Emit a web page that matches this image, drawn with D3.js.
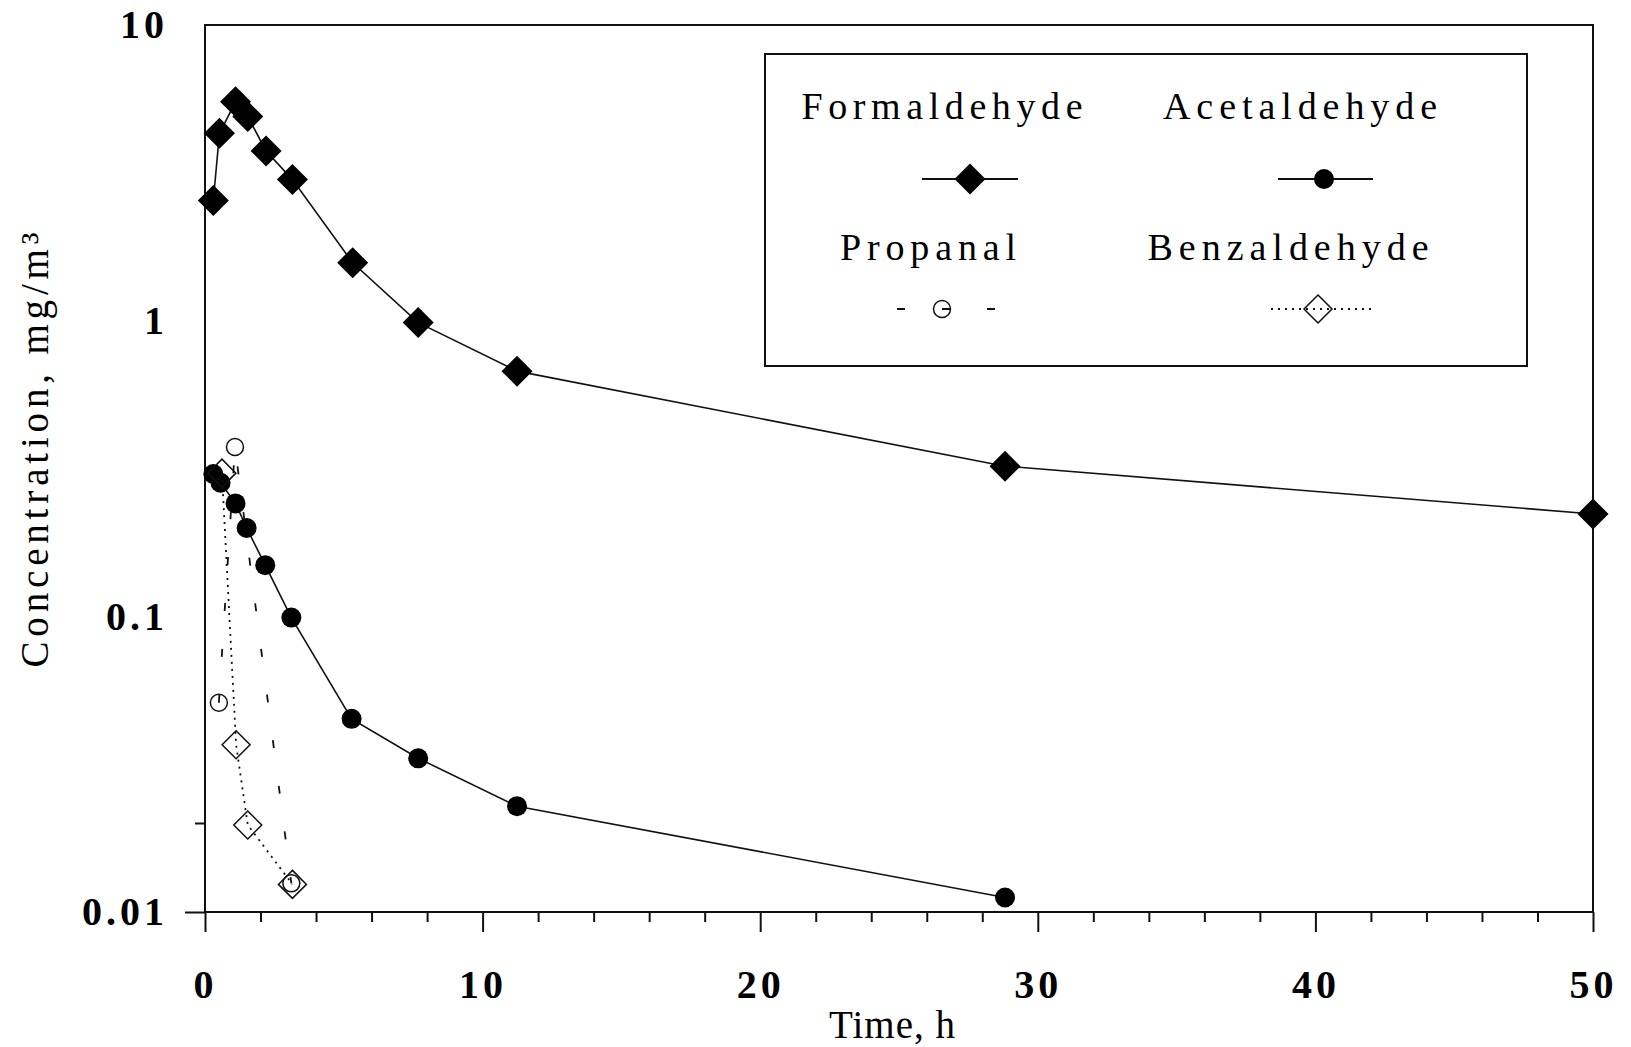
<!DOCTYPE html>
<html>
<head>
<meta charset="utf-8">
<script src="https://cdn.jsdelivr.net/npm/d3@7"></script>
<style>
  html, body { margin: 0; padding: 0; background: #fff; }
  svg { display: block; }
  text { font-family: "Liberation Serif", "Times New Roman", serif; fill: #000; }
</style>
</head>
<body>
<svg id="chart" width="1631" height="1047"></svg>
<script>
// Aldehyde concentrations over time (log scale)
const timeFormaldehyde = [0.3, 0.52, 1.1, 1.54, 2.2, 3.15, 5.32, 7.68, 11.24, 28.82, 50];
const formaldehyde     = [2.55, 4.3, 5.5, 4.9, 3.75, 3.0, 1.57, 0.985, 0.675, 0.322, 0.222];

const timeAcetaldehyde = [0.3, 0.56, 1.1, 1.5, 2.17, 3.11, 5.28, 7.68, 11.24, 28.82];
const acetaldehyde     = [0.303, 0.283, 0.241, 0.199, 0.149, 0.099, 0.045, 0.0331, 0.0228, 0.0112];

const timePropanal = [0.5, 1.08, 3.11];
const propanal     = [0.051, 0.374, 0.0125];

const timeBenzaldehyde = [0.61, 1.12, 1.54, 3.15];
const benzaldehyde     = [0.305, 0.0368, 0.0197, 0.0124];

const seriesNames = ["Formaldehyde", "Acetaldehyde", "Propanal", "Benzaldehyde"];
const xTickValues = [0, 10, 20, 30, 40, 50];
const yTickValues = [0.01, 0.1, 1, 10];
const yTickLabels = ["0.01", "0.1", "1", "10"];

const svg = d3.select("#chart");
const plot = { left: 205, right: 1593, top: 25, bottom: 912 };

const x = d3.scaleLinear().domain([0, 50]).range([plot.left, plot.right]);
const y = d3.scaleLog().domain([0.01, 10]).range([plot.bottom, plot.top]);

// plot frame
svg.append("rect")
  .attr("x", plot.left).attr("y", plot.top)
  .attr("width", plot.right - plot.left).attr("height", plot.bottom - plot.top)
  .attr("fill", "none").attr("stroke", "#111").attr("stroke-width", 2);

// x axis: major ticks with labels, minor ticks every 2 h
const xMajor = svg.append("g").attr("transform", `translate(0,${plot.bottom})`)
  .call(d3.axisBottom(x).tickValues(xTickValues).tickSize(20).tickPadding(38)
    .tickFormat(d3.format("d")));
const xMinor = svg.append("g").attr("transform", `translate(0,${plot.bottom})`)
  .call(d3.axisBottom(x).tickValues(d3.range(0, 51, 2).filter(v => v % 10 !== 0))
    .tickSize(10).tickFormat(""));

// y axis: labels only, plus the ticks at 0.01 and 0.02
const yLab = svg.append("g").attr("transform", `translate(${plot.left},0)`)
  .call(d3.axisLeft(y).tickValues(yTickValues).tickSize(0).tickPadding(37)
    .tickFormat((d, i) => yTickLabels[i]));
const yMajor = svg.append("g").attr("transform", `translate(${plot.left},0)`)
  .call(d3.axisLeft(y).tickValues([0.01]).tickSize(20).tickFormat(""));
const yMinor = svg.append("g").attr("transform", `translate(${plot.left},0)`)
  .call(d3.axisLeft(y).tickValues([0.02]).tickSize(10).tickFormat(""));

[xMajor, xMinor, yLab, yMajor, yMinor].forEach(g => {
  g.select(".domain").remove();
  g.selectAll("line").attr("stroke", "#111").attr("stroke-width", 2);
  g.selectAll("text")
    .style("font-family", '"Liberation Serif", "Times New Roman", serif')
    .style("font-weight", "bold").style("font-size", "40px")
    .style("letter-spacing", "4px").attr("fill", "#000");
});

// axis titles
svg.append("text")
  .attr("x", 892).attr("y", 1038)
  .attr("text-anchor", "middle")
  .attr("textLength", 126).attr("lengthAdjust", "spacing")
  .style("font-size", "39px")
  .text("Time, h");

svg.append("text")
  .attr("transform", "translate(48,450) rotate(-90)")
  .attr("text-anchor", "middle")
  .attr("textLength", 435).attr("lengthAdjust", "spacing")
  .style("font-size", "39px")
  .text("Concentration, mg/m³");

// series
const line = d3.line().x(d => x(d[0])).y(d => y(d[1]));
const pairs = (t, v) => t.map((d, i) => [d, v[i]]);

const fData = pairs(timeFormaldehyde, formaldehyde);
const aData = pairs(timeAcetaldehyde, acetaldehyde);
const pData = pairs(timePropanal, propanal);
const bData = pairs(timeBenzaldehyde, benzaldehyde);

const diamond = (s) => `M0,${-s}L${s},0L0,${s}L${-s},0Z`;

function drawSeries(data, lineStyle, marker) {
  const g = svg.append("g");
  g.append("path").datum(data).attr("d", line)
    .attr("fill", "none").attr("stroke", "#111")
    .attr("stroke-width", lineStyle.width)
    .attr("stroke-dasharray", lineStyle.dash || null);
  marker(g.selectAll(null).data(data).enter()
    .append("g").attr("transform", d => `translate(${x(d[0])},${y(d[1])})`));
}

const markFormaldehyde = sel => sel.append("path").attr("d", diamond(15.5)).attr("fill", "#000");
const markAcetaldehyde = sel => sel.append("circle").attr("r", 10).attr("fill", "#000");
const markPropanal = sel => sel.append("circle").attr("r", 8.5)
  .attr("fill", "none").attr("stroke", "#111").attr("stroke-width", 1.5);
const markBenzaldehyde = sel => sel.append("path").attr("d", diamond(14))
  .attr("fill", "none").attr("stroke", "#111").attr("stroke-width", 1.5);

drawSeries(fData, { width: 1.6 }, markFormaldehyde);
drawSeries(aData, { width: 1.6 }, markAcetaldehyde);
drawSeries(pData, { width: 1.8, dash: "8 38" }, markPropanal);
drawSeries(bData, { width: 1.8, dash: "2 5" }, markBenzaldehyde);

// legend
const legend = svg.append("g");
legend.append("rect")
  .attr("x", 765).attr("y", 54).attr("width", 762).attr("height", 312)
  .attr("fill", "#fff").attr("stroke", "#111").attr("stroke-width", 2);

const legendItems = [
  { name: seriesNames[0], tx: 942, tw: 281, ty: 119, sx: 970, sy: 179, l1: 922, l2: 1018, dash: null, mark: markFormaldehyde },
  { name: seriesNames[1], tx: 1300, tw: 274, ty: 119, sx: 1324, sy: 179, l1: 1278, l2: 1373, dash: null, mark: markAcetaldehyde },
  { name: seriesNames[2], tx: 928, tw: 176, ty: 260, sx: 942, sy: 309, l1: 897, l2: 995, dash: "8 37", mark: markPropanal },
  { name: seriesNames[3], tx: 1288, tw: 281, ty: 260, sx: 1318, sy: 309, l1: 1271, l2: 1373, dash: "2 5", mark: markBenzaldehyde }
];

legendItems.forEach(it => {
  legend.append("text")
    .attr("x", it.tx).attr("y", it.ty)
    .attr("text-anchor", "middle")
    .attr("textLength", it.tw).attr("lengthAdjust", "spacing")
    .style("font-size", "38px")
    .text(it.name);
  legend.append("line")
    .attr("x1", it.l1).attr("x2", it.l2).attr("y1", it.sy).attr("y2", it.sy)
    .attr("stroke", "#111").attr("stroke-width", it.dash ? 1.8 : 2)
    .attr("stroke-dasharray", it.dash);
  it.mark(legend.append("g").attr("transform", `translate(${it.sx},${it.sy})`));
});
</script>
</body>
</html>
